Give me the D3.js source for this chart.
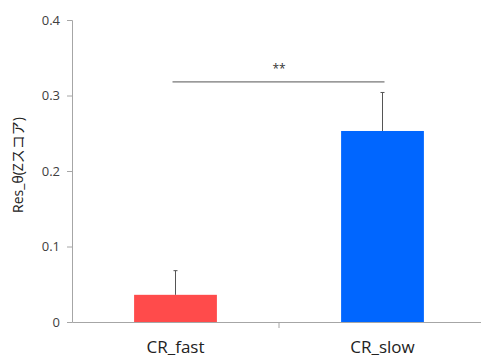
<!DOCTYPE html>
<html>
<head>
<meta charset="utf-8">
<script src="https://cdn.jsdelivr.net/npm/d3@7"></script>
<style>
  body { margin: 0; background: #fff; }
  text { font-family: "Open Sans", "Noto Sans CJK JP", sans-serif; }
</style>
</head>
<body>
<div id="chart"></div>
<script>
const categories = ["CR_fast", "CR_slow"];
const means = [0.036, 0.253];
const errors = [0.032, 0.051];
const yTicks = [0, 0.1, 0.2, 0.3, 0.4];
const sigLevel = 0.318;
const sigLabel = "**";
const yLabel = "Res_θ(Zスコア)";

const width = 481, height = 358;
const margin = { top: 20, right: -5, bottom: 36, left: 72 };

const svg = d3.select("#chart").append("svg")
  .attr("width", width).attr("height", height);

const x = d3.scaleBand()
  .domain(categories)
  .range([margin.left, width - margin.right]);

const y = d3.scaleLinear()
  .domain([0, 0.4])
  .range([height - margin.bottom, margin.top]);

const colors = ["#ff4b4b", "#0066ff"];
const barW = x.bandwidth() * 0.4;

// y axis
const yAxis = svg.append("g")
  .attr("transform", `translate(${margin.left},0)`)
  .call(d3.axisLeft(y).tickValues(yTicks).tickSize(5).tickPadding(7)
    .tickFormat(d => d === 0 ? "0" : d3.format(".1f")(d)));
yAxis.select(".domain").attr("stroke", "#a6a6a6");
yAxis.selectAll(".tick line").attr("stroke", "#a6a6a6");
yAxis.selectAll(".tick text").attr("fill", "#404040").style("font-size", "13px");

// x axis
const xAxis = svg.append("g")
  .attr("transform", `translate(0,${y(0)})`)
  .call(d3.axisBottom(x).tickSize(0).tickPadding(19).tickSizeOuter(0));
xAxis.select(".domain").attr("stroke", "#a6a6a6");
xAxis.selectAll(".tick text").attr("fill", "#222").style("font-size", "17px");

// divider tick between categories
svg.append("line")
  .attr("x1", x.range()[0] + x.step()).attr("x2", x.range()[0] + x.step())
  .attr("y1", y(0)).attr("y2", y(0) + 6)
  .attr("stroke", "#a6a6a6");

// bars
svg.selectAll("rect.bar").data(categories).enter().append("rect")
  .attr("class", "bar")
  .attr("x", d => x(d) + x.bandwidth() / 2 - barW / 2)
  .attr("width", barW)
  .attr("y", (d, i) => y(means[i]))
  .attr("height", (d, i) => y(0) - y(means[i]))
  .attr("fill", (d, i) => colors[i]);

// error bars (upper only)
const eb = svg.selectAll("g.err").data(categories).enter().append("g").attr("class", "err");
eb.append("line")
  .attr("x1", d => x(d) + x.bandwidth() / 2)
  .attr("x2", d => x(d) + x.bandwidth() / 2)
  .attr("y1", (d, i) => y(means[i]))
  .attr("y2", (d, i) => y(means[i] + errors[i]))
  .attr("stroke", "#555").attr("stroke-width", 1);
eb.append("line")
  .attr("x1", d => x(d) + x.bandwidth() / 2 - 2)
  .attr("x2", d => x(d) + x.bandwidth() / 2 + 2)
  .attr("y1", (d, i) => y(means[i] + errors[i]))
  .attr("y2", (d, i) => y(means[i] + errors[i]))
  .attr("stroke", "#555").attr("stroke-width", 1);

// significance line
const cx0 = x(categories[0]) + x.bandwidth() / 2;
const cx1 = x(categories[1]) + x.bandwidth() / 2;
svg.append("line")
  .attr("x1", cx0 - 3).attr("x2", cx1 + 2)
  .attr("y1", y(sigLevel)).attr("y2", y(sigLevel))
  .attr("stroke", "#555").attr("stroke-width", 1);
svg.append("text")
  .attr("x", (cx0 + cx1) / 2)
  .attr("y", y(sigLevel) - 9)
  .attr("text-anchor", "middle")
  .attr("fill", "#333")
  .style("font-size", "12px")
  .text(sigLabel);

// y label
svg.append("text")
  .attr("transform", `translate(23,${(y(0) + y(0.4)) / 2 - 6}) rotate(-90)`)
  .attr("text-anchor", "middle")
  .attr("fill", "#222")
  .style("font-size", "14px")
  .text(yLabel);
</script>
</body>
</html>
